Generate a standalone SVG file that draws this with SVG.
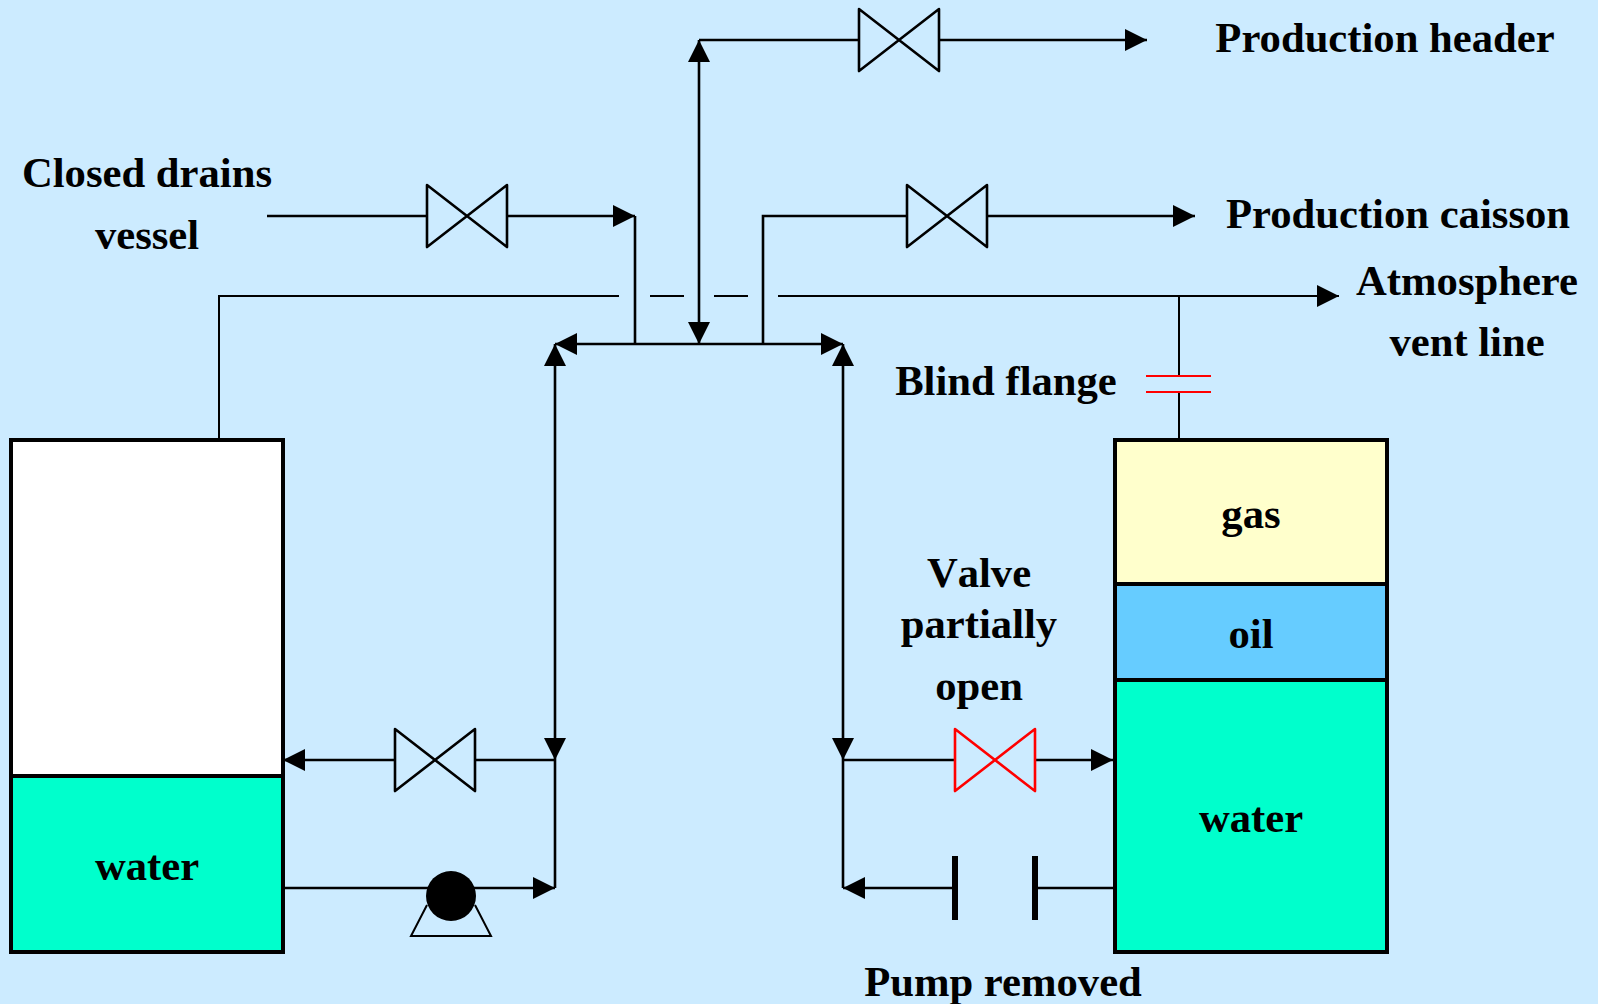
<svg xmlns="http://www.w3.org/2000/svg" width="1598" height="1004" viewBox="0 0 1598 1004">
<style>
.t{font-family:"Liberation Serif","Times New Roman",serif;font-weight:700;font-size:42.67px;fill:#000;text-anchor:middle}
.p{fill:none;stroke:#000;stroke-width:2.6}
.n{fill:none;stroke:#000;stroke-width:2}
.v{fill:none;stroke:#000;stroke-width:2.6;stroke-linejoin:round}
.r{stroke:#f00}
.k{stroke:#000;stroke-width:4}
</style>
<defs>
<marker id="a" markerUnits="userSpaceOnUse" markerWidth="22" markerHeight="22" refX="22" refY="11" orient="auto-start-reverse"><path d="M0 0L22 11L0 22Z" fill="#000"/></marker>
<path id="valve" d="M-40 -31L40 31V-31L-40 31Z"/>
</defs>
<rect width="1598" height="1004" fill="#CCEBFF"/>
<g id="connectors">
<path class="p" d="M699 344V40" marker-start="url(#a)" marker-end="url(#a)"/>
<path class="p" d="M699 40H859M939 40H1147" marker-end="url(#a)"/>
<path class="p" d="M267 216H427M507 216H635" marker-end="url(#a)"/>
<path class="p" d="M635 216V344"/>
<path class="p" d="M763 344V216H907M987 216H1195" marker-end="url(#a)"/>
<path class="p" d="M555 344H843" marker-start="url(#a)" marker-end="url(#a)"/>
<path class="p" d="M555 760V344" marker-start="url(#a)" marker-end="url(#a)"/>
<path class="p" d="M843 760V344" marker-start="url(#a)" marker-end="url(#a)"/>
<path class="n" d="M219 440V296H619M650 296H684M714 296H748M778 296H1339" marker-end="url(#a)"/>
<path class="n" d="M1179 296V376M1179 392V440"/>
<path class="p" d="M555 760H475M395 760H283" marker-end="url(#a)"/>
<path class="p" d="M283 888H555" marker-end="url(#a)"/>
<path class="p" d="M555 760V888"/>
<path class="p" d="M843 760H955M1035 760H1113" marker-end="url(#a)"/>
<path class="p" d="M843 760V888"/>
<path class="p" d="M1115 888H1035"/>
<path class="p" d="M955 888H843" marker-end="url(#a)"/>
</g>
<g id="tank-left">
<rect x="11" y="440" width="272" height="336" fill="#fff" class="k"/>
<rect x="11" y="776" width="272" height="176" fill="#00FFCC" class="k"/>
<text class="t" x="147" y="880">water</text>
</g>
<g id="tank-right">
<rect x="1115" y="440" width="272" height="144" fill="#FFFFCC" class="k"/>
<rect x="1115" y="584" width="272" height="96" fill="#66CCFF" class="k"/>
<rect x="1115" y="680" width="272" height="272" fill="#00FFCC" class="k"/>
<text class="t" x="1251" y="528">gas</text>
<text class="t" x="1251" y="648">oil</text>
<text class="t" x="1251" y="832">water</text>
</g>
<g id="valve-header"><use href="#valve" x="899" y="40" class="v"/></g>
<g id="valve-drains"><use href="#valve" x="467" y="216" class="v"/></g>
<g id="valve-caisson"><use href="#valve" x="947" y="216" class="v"/></g>
<g id="valve-left"><use href="#valve" x="435" y="760" class="v"/></g>
<g id="valve-partial"><use href="#valve" x="995" y="760" class="v r"/></g>
<g id="pump">
<path class="n" d="M427 905L411 936H491L475 905"/>
<circle cx="451" cy="896" r="25" fill="#000"/>
</g>
<g id="pump-removed">
<path d="M955 856V920M1035 856V920" stroke="#000" stroke-width="6" fill="none"/>
<text class="t" x="1003" y="996">Pump removed</text>
</g>
<g id="blind-flange">
<path d="M1146 376H1211M1146 392H1211" stroke="#f00" stroke-width="2" fill="none"/>
<text class="t" x="1006" y="395">Blind flange</text>
</g>
<g id="labels">
<text class="t" x="1385" y="52">Production header</text>
<text class="t" x="1398" y="228">Production caisson</text>
<text class="t" x="1467" y="295">Atmosphere</text>
<text class="t" x="1467" y="356">vent line</text>
<text class="t" x="147" y="187">Closed drains</text>
<text class="t" x="147" y="249">vessel</text>
<text class="t" x="979" y="587" style="font-kerning:none">Valve</text>
<text class="t" x="979" y="638">partially</text>
<text class="t" x="979" y="700">open</text>
</g>
</svg>
